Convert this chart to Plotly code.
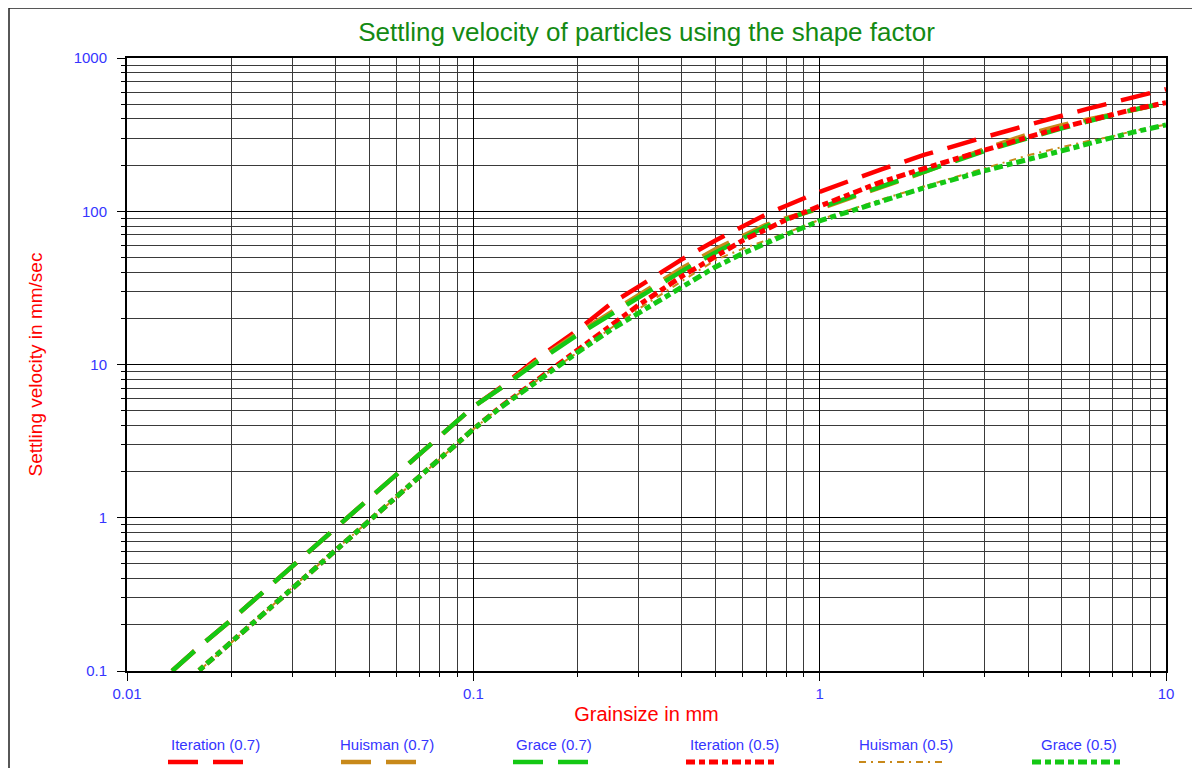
import plotly.graph_objects as go

# ---------------- data ----------------
grain_mm = [0.0135, 0.016, 0.02, 0.03, 0.05, 0.07, 0.1, 0.12, 0.15, 0.2, 0.25, 0.3,
            0.4, 0.5, 0.6, 0.7, 0.8, 1, 1.5, 2, 3, 4, 5, 6, 7, 8, 10]

iteration_07 = [0.1, 0.141, 0.215, 0.48, 1.33, 2.6, 5.3, 7.1, 10.6, 16.8, 25.0, 32.2,
                48.5, 64.5, 80.2, 95.5, 108.6, 134, 187, 233, 305, 368, 420, 469, 510, 552, 626]
huisman_07 = [0.1, 0.141, 0.215, 0.48, 1.33, 2.6, 5.3, 7.0, 10.3, 16.0, 22.0, 28.2,
              42.5, 56.5, 69, 81.5, 90, 104, 143, 180, 255, 318, 365, 398, 430, 460, 508]
grace_07 = [0.1, 0.141, 0.215, 0.48, 1.33, 2.6, 5.3, 7.0, 10.1, 15.6, 21.2, 27.0,
            40.7, 53.8, 66.8, 79.6, 88.6, 105, 145, 181, 248, 302, 347, 388, 425, 458, 511]
iteration_05 = [0.0707, 0.099, 0.153, 0.35, 0.95, 1.85, 3.78, 5.3, 7.7, 12.2, 18.0, 24.4,
                37.6, 50.3, 64.5, 76, 88, 108, 155, 190, 253, 305, 352, 390, 427, 461, 511]
huisman_05 = [0.0707, 0.099, 0.153, 0.35, 0.95, 1.85, 3.78, 5.3, 7.65, 12.0, 17.3, 23.0,
              35.0, 48.0, 57.0, 64.5, 72, 88, 119, 145, 190, 232, 262, 288, 308, 333, 368]
grace_05 = [0.0707, 0.099, 0.153, 0.35, 0.95, 1.85, 3.78, 5.25, 7.6, 12.0, 16.9, 21.7,
            32.1, 43.3, 53.1, 62.3, 70.5, 86.6, 116.8, 142, 184, 218, 248, 275, 299, 327, 366]

series_names = ["Iteration (0.7)", "Huisman (0.7)", "Grace (0.7)",
                "Iteration (0.5)", "Huisman (0.5)", "Grace (0.5)"]
series_values = [iteration_07, huisman_07, grace_07, iteration_05, huisman_05, grace_05]

x_tick_vals = [0.01, 0.1, 1, 10]
x_tick_text = ["0.01", "0.1", "1", "10"]
y_tick_vals = [0.1, 1, 10, 100, 1000]
y_tick_text = ["0.1", "1", "10", "100", "1000"]

title_text = "Settling velocity of particles using the shape factor"
x_title = "Grainsize in mm"
y_title = "Settling velocity in mm/sec"

# ---------------- styles / layout ----------------
# the page adds an 8px body margin, so the figure is 8px smaller than the window
OFF = 8
W, H = 1200 - OFF, 768 - OFF
PL, PR, PT, PB = 127, 1166, 58, 671          # plot area in window pixels
ML, MR, MT, MB = PL - OFF, 1200 - PR, PT - OFF, 768 - PB
PW, PH = PR - PL, PB - PT

RED = "#ff0000"
GOLD = "#c8891a"
GREEN = "#14c814"
BLUE = "#3535ff"
FONT = "Liberation Sans, Arial, sans-serif"

styles = [
    (RED, 4.5, "30px,15px"),
    (GOLD, 4.5, "30px,15px"),
    (GREEN, 4.5, "30px,15px"),
    (RED, 5, "9px,4px,6px,4px"),
    (GOLD, 2, "7px,5px,2px,5px"),
    (GREEN, 5, "9px,4px,6px,4px"),
]


def px_x(p):
    return (p - PL) / PW


def px_y(p):
    return (PB - p) / PH


fig = go.Figure()
for name, vals, (col, wid, dash) in zip(series_names, series_values, styles):
    fig.add_trace(go.Scatter(x=grain_mm, y=vals, mode="lines", name=name,
                             line=dict(color=col, width=wid, dash=dash),
                             showlegend=False))

minor_x = [m * 10.0 ** e for e in range(-2, 1) for m in range(2, 10)]
minor_y = [m * 10.0 ** e for e in range(-1, 3) for m in range(2, 10)]

axis_common = dict(
    type="log", showline=True, linecolor="black", linewidth=2, mirror=True,
    showgrid=True, gridcolor="black", gridwidth=1.3,
    ticks="outside", ticklen=8, tickcolor="black", tickwidth=1.3,
    tickfont=dict(family=FONT, size=15, color=BLUE),
    zeroline=False,
)

fig.update_xaxes(
    **axis_common, range=[-2, 1], tickmode="array",
    tickvals=x_tick_vals, ticktext=x_tick_text,
    minor=dict(tickmode="array", tickvals=minor_x, showgrid=True,
               gridcolor="#3a3a3a", gridwidth=1, ticks="outside",
               ticklen=4, tickcolor="black"),
    title=dict(text=x_title, font=dict(family=FONT, size=20, color=RED), standoff=6),
)
fig.update_yaxes(
    **axis_common, range=[-1, 3], tickmode="array",
    tickvals=y_tick_vals, ticktext=y_tick_text, ticklabelstandoff=7,
    minor=dict(tickmode="array", tickvals=minor_y, showgrid=True,
               gridcolor="#3a3a3a", gridwidth=1, ticks="outside",
               ticklen=4, tickcolor="black"),
    title=dict(text=y_title, font=dict(family=FONT, size=19, color=RED), standoff=26),
)

# custom legend: label above, line sample below
label_cx = [215, 387, 554, 734, 906, 1079]
sample_span = [(168, 247), (341, 419), (513, 593), (686, 776), (859, 947), (1032, 1122)]
annotations = []
shapes = []
for name, cx, (x0, x1), (col, wid, dash) in zip(series_names, label_cx, sample_span, styles):
    annotations.append(dict(x=px_x(cx), y=px_y(744), xref="paper", yref="paper",
                            text=name, showarrow=False, xanchor="center", yanchor="middle",
                            font=dict(family=FONT, size=15, color=BLUE)))
    shapes.append(dict(type="line", xref="paper", yref="paper",
                       x0=px_x(x0), x1=px_x(x1), y0=px_y(762), y1=px_y(762),
                       line=dict(color=col, width=wid, dash=dash)))

# outer frame of the chart
shapes.append(dict(type="rect", xref="paper", yref="paper",
                   x0=px_x(9), x1=px_x(1215), y0=px_y(8), y1=px_y(800),
                   line=dict(color="#202020", width=1.5), fillcolor="rgba(0,0,0,0)",
                   layer="below"))

fig.update_layout(
    width=W, height=H,
    margin=dict(l=ML, r=MR, t=MT, b=MB, autoexpand=False),
    paper_bgcolor="white", plot_bgcolor="white",
    title=dict(text=title_text, x=px_x(646.5), xref="paper", xanchor="center",
               y=1 - (32 - OFF) / H, yref="container", yanchor="middle",
               font=dict(family=FONT, size=26, color="#138a13")),
    annotations=annotations,
    shapes=shapes,
    showlegend=False,
)

fig.write_html("out.html", config={"displayModeBar": False})
